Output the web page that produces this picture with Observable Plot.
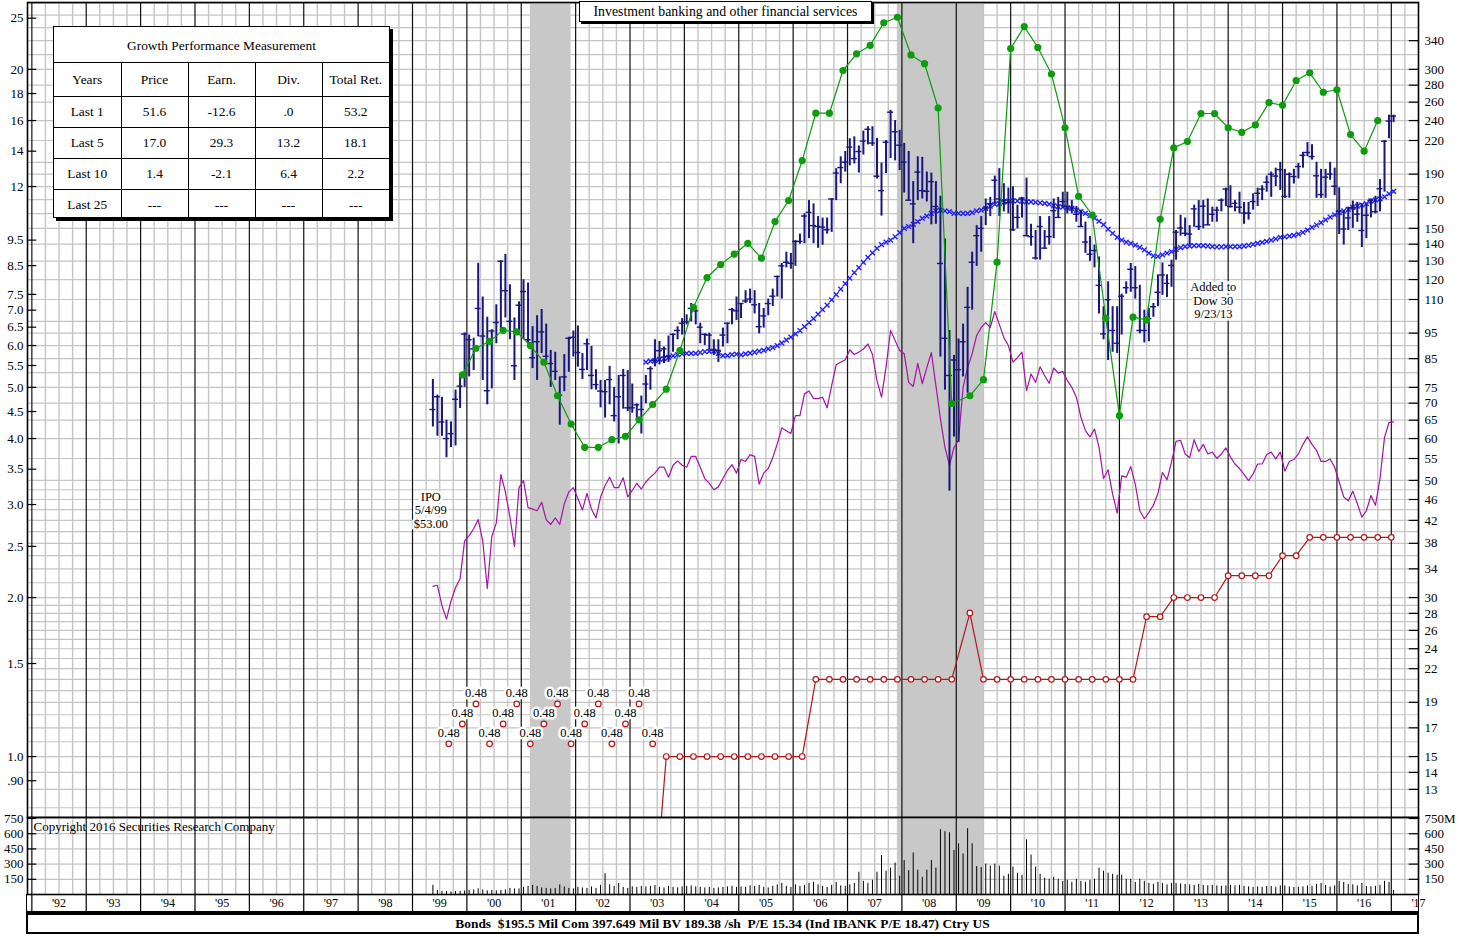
<!DOCTYPE html>
<html><head><meta charset="utf-8">
<script src="https://cdn.jsdelivr.net/npm/d3@7"></script>
<script src="https://cdn.jsdelivr.net/npm/@observablehq/plot@0.6"></script>
<style>
body{margin:0;background:#fff;font-family:"Liberation Serif","Times New Roman",serif;}
#wrap{position:relative;width:1470px;height:937px;overflow:hidden;background:#fff;}
#wrap svg{position:absolute;left:0;}
#gpm{position:absolute;left:53px;top:26px;width:335px;height:190px;border:1.5px solid #000;box-shadow:3px 3px 0 #000;background:#fff;font-size:13.4px;}
#gpm .hdr{height:35px;line-height:37px;text-align:center;border-bottom:1px solid #000;}
#gpm table{width:100%;border-collapse:collapse;border-style:hidden;table-layout:fixed;}
#gpm td{border:1px solid #000;text-align:center;height:30px;padding:0;}
#gpm tr:first-child td{height:33px;}
#title{position:absolute;left:579px;top:1px;width:291px;height:19px;border:1px solid #000;box-shadow:2px 2px 0 #000;background:#fff;font-size:13.8px;text-align:center;line-height:20px;}
#xrow{position:absolute;left:26px;top:894px;width:1391px;height:17px;border-left:1.5px solid #000;border-right:1.5px solid #000;border-bottom:2px solid #000;}
#bottom{position:absolute;left:26px;top:913px;width:1389px;height:17px;border:2px solid #000;font-weight:bold;font-size:13.4px;text-align:center;line-height:18px;}
</style></head>
<body><div id="wrap"></div>
<script>
// ---------------- DATA ----------------
const PRICE_START = [1999, 5]; // first monthly bar: May 1999
const priceHigh = [
77.6,72.5,71.8,65,64.5,74.1,78.7,95.1,
94.2,92.9,128.8,111.2,101.8,96.4,107.5,130.1,133.9,117.3,101.5,108.9,
119.9,118.2,97.7,102.5,105.3,98.8,88.1,87.4,78.5,86.5,93.3,95.9,
98,86.9,92.6,89.6,81,77.3,77.3,82.2,75,79,81.1,80.7,
76.1,69.8,72.2,79,82,92.3,91.6,89.4,93.8,94.7,97.7,101.2,
102.9,108.1,105.3,99.2,94.7,95,92.3,92.3,97.1,99.2,105.8,111.2,
108.1,114.3,115.1,114.3,108.1,105.8,110.2,115.1,121.8,128.7,135.2,134.5,
142.2,146.3,159.8,169.3,166.9,157.9,156.9,156.9,170.5,194.6,204.9,209.7,
221.7,223.5,214.8,229.2,233.6,233.6,222,199.4,220,250.9,240,230,
217.2,209.7,183.9,204.9,204.4,191.7,190.9,183.9,172.5,143.3,96.1,86.2,
92.6,98.8,116,135.2,151.8,157.9,170.5,171.7,188.4,194.6,182.2,178.7,
179.8,165.9,171.7,186.7,152.7,148.6,157.9,148.6,157.9,170.5,171.7,175.6,
175.6,169.3,165,162.4,154.1,144.7,139.4,132.4,106.6,118.8,106.6,106.6,
112.6,118.8,128.7,127,117,105,105.8,108.1,122.5,129,122.5,130.6,
148.6,158.8,156.9,151.8,165.9,169.3,169.3,170.5,164.5,164.5,170.5,178.7,
180.6,169.3,175.6,167.9,167.9,174.3,178.7,180.6,188.4,191.7,195,200,
194,191,194,199,209,218,216,200,194,194,200,195,
179,162,164.5,169,168,167,167,170.5,172.5,185.5,220,245.7,
245.7];
const priceLow = [
63.1,60.6,60.6,55.2,57.7,58.1,68.4,75,
78.5,80.7,93.5,77.3,69.5,74.5,90.7,95.9,101.5,92.3,77.3,94.7,
92.3,89.4,81.4,77.3,86.9,84.3,75,77.3,63.6,73.6,80.1,85.6,
81.9,77.6,80.7,74.2,74.1,68.6,65.6,69.5,64.5,58.6,68.2,67.5,
67,65.4,61.2,69.8,74.1,82,82.7,83.2,83.6,87.4,92.3,94.2,
98.5,99.8,98.5,90.7,90,88.1,86.2,83.6,89.4,90.7,98.5,100.4,
101.2,108.1,108.1,103.3,94.7,97.1,102.5,106.7,111.2,110.2,126.3,125.5,
127.1,140,140.3,143.4,140.3,137.5,139.4,146.3,147.4,169.3,182.2,191.7,
197,198.6,190.9,206.5,215.8,214.5,186,158.2,190.5,203.3,201.3,193,
175,169.3,140.3,169.3,170.5,168.3,152.3,152.7,85.6,74.1,47.7,60.4,
59,78.5,73.1,105,127.1,135.2,151.8,157.9,166.9,157.9,161.2,159.8,
148.2,149.7,156.9,144.7,138.8,130.6,130.6,136.9,139.4,143.4,156.9,164,
159.8,159.8,154.1,150.8,134.5,129.9,126.3,103.3,92.3,84.3,87.4,86.9,
94.2,112.6,113.5,110.2,94.7,91,91.5,101.8,106.6,112,111,116,
130.6,145,144.7,139.4,150.8,148.6,149.7,151.8,154.1,154.1,161.2,165,
163.9,161.2,159.8,152.7,155.5,162.4,165,169.3,175.6,171.7,180,177,
171,171,182,186,195,205,202,171,171,171,185,173,
146,139.5,148.6,150,154,138,143.4,157,159.8,161.2,175.6,221.7,
237.8];
const priceClose = [
68.1,72,64.5,60,61.3,71.2,75.4,94.6,
92.3,88.7,105.8,93.8,73.9,95.9,99.5,130,114.3,100,82.4,107.3,
113.9,92.3,85.3,91.5,95.5,85.9,83.2,80.4,72.5,78.5,92.9,93.3,
87.3,81.1,90.7,79,75.9,73.8,73.6,77.6,66.3,72,79,68.6,
68.6,69.5,68.1,76.1,81.4,84.3,88,88.7,85.8,94.5,96.1,99.2,
99.8,105.8,104.7,97.5,94.5,94.2,88.1,88.1,94.2,99.2,105.3,104.7,
108.1,109.3,110.2,107.5,97.7,102.4,108.1,111.6,121.6,127.4,129.4,128.8,
141.7,141.7,158.3,160.8,151.8,151.2,150.8,149.1,170.5,190.9,195.5,200.2,
213.8,203.3,209.7,219.5,231,217.6,188.3,176.8,218.4,248.9,228.5,215.5,
200.2,169.6,166.9,191.7,176.8,176.3,183.9,165,128.7,92.9,79,84.5,
81,91.5,106.3,129.4,145.3,150,163.9,167,185,170.5,169.6,167.9,
149,157.3,171.2,145.3,144.7,131.8,151.2,137.6,144.7,162,157.3,168.6,
165,163.9,159.5,151.2,141.3,134,136.2,117,94.7,109.9,96.1,90.9,
111.6,115.8,125.5,115.8,96.1,96.1,101.2,106.6,113.5,122.4,118,127.6,
147.5,150.2,146.8,146.3,163.3,151.2,165.2,152.3,159.5,162.4,169.6,178,
165,167.3,164.5,160.3,160.3,168.6,174.8,178,183.4,189.9,188.4,193.8,
172.4,189.9,188,196.4,206.3,208.8,205.1,188.6,173.8,187.5,190,180.2,
161.6,149.6,157,164.1,159.6,148.6,158.8,169.4,161.3,178.3,219.3,239.5,
244.7];
// monthly volume, millions of shares
const volume = [
90,40,30,30,25,30,30,35,
40,45,55,45,35,40,35,40,45,60,55,55,
70,80,90,80,65,60,55,60,95,75,60,55,
70,65,60,75,60,90,205,95,80,110,70,60,
75,70,80,75,80,90,70,65,80,70,65,75,
80,85,75,70,65,70,60,65,70,75,80,70,
75,70,85,80,90,70,65,80,95,110,80,70,
95,80,90,110,120,95,80,70,90,120,85,80,
95,110,220,130,110,140,220,385,230,260,310,180,
335,235,410,240,170,240,335,260,640,620,610,435,
500,400,650,500,275,265,300,280,300,280,180,200,
270,210,190,540,390,270,200,160,150,170,150,130,
140,120,150,130,120,140,150,260,230,210,200,190,
190,150,150,120,150,130,110,100,120,110,95,110,
110,105,100,95,90,100,90,85,90,85,80,85,
90,85,90,80,75,70,75,70,80,80,70,85,
85,75,70,70,75,85,80,100,110,90,75,85,
130,120,100,95,85,110,80,75,80,90,130,120,
40];
// relative strength (left-scale units), monthly from May 1999
const relStrength = [
2.10,2.11,1.93,1.82,1.97,2.09,2.17,2.56,
2.62,2.70,2.81,2.56,2.08,2.61,2.77,3.42,3.17,2.84,2.50,3.23,
3.33,2.96,2.94,2.92,3.03,2.81,2.75,2.83,2.75,3.01,3.17,3.23,
3.08,2.93,3.15,2.94,2.83,3.10,3.26,3.38,3.23,3.23,3.37,3.10,
3.19,3.29,3.21,3.31,3.38,3.44,3.53,3.53,3.38,3.56,3.63,3.56,
3.53,3.70,3.70,3.53,3.36,3.29,3.20,3.24,3.36,3.48,3.57,3.44,
3.65,3.62,3.73,3.70,3.28,3.44,3.51,3.68,3.91,4.19,4.14,4.09,
4.42,4.42,4.86,4.92,4.76,4.76,4.79,4.57,5.04,5.52,5.58,5.64,
5.89,5.77,5.83,5.91,6.04,5.77,5.15,4.79,5.46,6.41,6.13,5.87,
5.79,5.11,5.02,5.55,5.08,5.45,5.82,5.04,4.36,3.85,3.56,3.85,
3.97,5.00,5.45,5.79,6.27,6.49,6.63,6.49,6.96,6.58,6.21,6.00,
5.58,5.69,5.83,4.93,5.30,5.11,5.47,5.26,5.09,5.44,5.32,5.36,
5.15,5.00,4.79,4.39,4.14,4.03,4.17,3.85,3.36,3.49,3.14,2.89,
3.40,3.38,3.54,3.28,2.92,2.82,2.90,2.99,3.15,3.45,3.34,3.61,
3.95,3.97,3.74,3.68,3.98,3.78,3.90,3.74,3.77,3.67,3.74,3.84,
3.69,3.58,3.51,3.42,3.33,3.43,3.58,3.58,3.73,3.77,3.66,3.77,
3.47,3.62,3.65,3.74,3.90,4.03,3.90,3.80,3.62,3.62,3.66,3.53,
3.31,3.10,3.05,3.18,3.01,2.84,2.92,3.12,2.99,3.36,4.02,4.29,
4.30];
// moving average of price, monthly from Apr 2003
const MA_START = [2003, 4];
const movingAvg = [
83.7,84.1,84.3,84.7,85.0,85.5,86.0,86.5,86.8,
87.0,87.0,87.0,87.3,87.6,87.7,87.8,87.0,86.1,86.1,86.5,86.7,
86.4,86.8,87.1,87.4,87.8,88.1,88.7,89.2,90.0,91.0,92.2,93.4,
94.7,96.0,97.7,99.5,101.2,103.2,105.2,107.3,109.8,112.4,115.1,117.9,
120.8,123.7,126.4,129.3,132.2,134.8,137.5,139.7,141.3,142.5,144.6,147.2,
150.0,151.1,152.7,154.4,156.7,158.3,160.1,161.8,162.4,161.8,161.3,160.1,
160.1,160.1,160.1,160.6,161.8,162.4,163.6,165.3,166.5,167.1,168.2,168.9,
169.1,169.1,168.9,168.4,168.4,168.0,167.7,167.2,166.7,165.6,164.9,164.5,
164.0,163.6,162.4,161.3,160.1,158.6,156.9,154.8,152.4,149.5,146.8,144.2,
142.5,141.3,140.5,139.4,138.1,136.5,134.7,133.0,132.7,133.6,134.7,135.5,
136.9,137.9,138.5,138.9,139.1,139.1,139.1,138.9,138.5,138.3,138.3,138.5,
138.5,138.5,138.5,138.9,139.3,139.9,140.5,141.1,141.7,142.5,143.3,144.2,
144.6,145.0,145.5,146.3,147.4,148.9,150.7,152.2,153.8,155.6,157.5,159.1,
160.6,161.8,162.9,164.4,165.2,166.1,167.1,169.0,169.9,170.6,172.1,174.3,
176.3];
// earnings per share (12-month), at quarter ends
const earnPeriods = ["1999-11","2000-02","2000-05","2000-08","2000-11","2001-02","2001-05","2001-08","2001-11",
"2002-02","2002-05","2002-08","2002-11","2003-02","2003-05","2003-08","2003-11","2004-02","2004-05","2004-08","2004-11",
"2005-02","2005-05","2005-08","2005-11","2006-02","2006-05","2006-08","2006-11","2007-02","2007-05","2007-08","2007-11",
"2008-02","2008-05","2008-08","2008-11","2009-03","2009-06","2009-09","2009-12","2010-03","2010-06","2010-09","2010-12",
"2011-03","2011-06","2011-09","2011-12","2012-03","2012-06","2012-09","2012-12","2013-03","2013-06","2013-09","2013-12",
"2014-03","2014-06","2014-09","2014-12","2015-03","2015-06","2015-09","2015-12","2016-03","2016-06","2016-09"];
const earnValues = [5.28,5.93,6.11,6.41,6.37,6.00,5.58,4.82,4.26,
3.85,3.85,3.98,4.04,4.34,4.64,4.96,5.87,7.09,8.07,8.54,8.94,
9.37,8.78,10.3,11.29,13.44,16.52,16.52,19.9,21.4,22.2,24.5,25.1,
21.3,20.5,16.9,4.66,4.82,5.17,8.63,21.9,24.1,22.0,19.6,15.5,
11.5,10.6,6.76,4.42,6.79,6.71,10.4,14.2,14.6,16.5,16.5,15.5,
15.2,15.7,17.3,17.1,19.05,19.7,18.1,18.3,15.05,14.0,16.0];
// dividends (annual rate); early ones below scale are shown as labels
const divLabelPeriods = ["1999-08","1999-11","2000-02","2000-05","2000-08","2000-11","2001-02","2001-05",
"2001-08","2001-11","2002-02","2002-05","2002-08","2002-11","2003-02","2003-05"];
const divLabelValues = [0.48,0.48,0.48,0.48,0.48,0.48,0.48,0.48,0.48,0.48,0.48,0.48,0.48,0.48,0.48,0.48];
const divPeriods = ["2003-05","2003-08","2003-11","2004-02","2004-05","2004-08","2004-11","2005-02","2005-05","2005-08","2005-11","2006-02",
"2006-05","2006-08","2006-11","2007-02","2007-05","2007-08","2007-11","2008-02","2008-05","2008-08","2008-11",
"2009-03","2009-06","2009-09","2009-12","2010-03","2010-06","2010-09","2010-12","2011-03","2011-06","2011-09","2011-12","2012-03",
"2012-06","2012-09","2012-12","2013-03","2013-06","2013-09","2013-12","2014-03","2014-06","2014-09",
"2014-12","2015-03","2015-06","2015-09","2015-12","2016-03","2016-06","2016-09","2016-12"];
const divValues = [0.48,1.0,1.0,1.0,1.0,1.0,1.0,1.0,1.0,1.0,1.0,1.0,
1.40,1.40,1.40,1.40,1.40,1.40,1.40,1.40,1.40,1.40,1.40,
1.87,1.40,1.40,1.40,1.40,1.40,1.40,1.40,1.40,1.40,1.40,1.40,1.40,
1.84,1.84,2.00,2.00,2.00,2.00,2.20,2.20,2.20,2.20,
2.40,2.40,2.60,2.60,2.60,2.60,2.60,2.60,2.60];
const recessions = [{from: "2001-03", to: "2001-11"}, {from: "2007-12", to: "2009-06"}];
// axis tick labels
const leftTicks = [25,20,18,16,14,12,9.5,8.5,7.5,7.0,6.5,6.0,5.5,5.0,4.5,4.0,3.5,3.0,2.5,2.0,1.5,1.0,0.9];
const leftLabels = ["25","20","18","16","14","12","9.5","8.5","7.5","7.0","6.5","6.0","5.5","5.0","4.5","4.0","3.5","3.0","2.5","2.0","1.5","1.0",".90"];
const rightTicks = [340,300,280,260,240,220,190,170,150,140,130,120,110,95,85,75,70,65,60,55,50,46,42,38,34,30,28,26,24,22,19,17,15,14,13];
const gridPrices = [12,13,14,15,16,17,18,19,20,21,22,23,24,25,26,27,28,29,30,32,34,36,38,40,42,44,46,48,50,55,60,65,70,75,80,85,90,95,100,110,120,130,140,150,160,170,180,190,200,220,240,260,280,300,320,340,360,380,400];
const volTicks = [750,600,450,300,150];
const volLeftLabels = ["750","600","450","300","150"];
const volRightLabels = ["750M","600","450","300","150"];
const notes = [
  {date: "1999-05-04", price: 44, text: "IPO\n5/4/99\n$53.00"},
  {date: "2013-09-23", price: 109.5, text: "Added to\nDow 30\n9/23/13"}
];
const tableHead = ["Years","Price","Earn.","Div.","Total Ret."];
const tableRows = [
  ["Last 1","51.6","-12.6",".0","53.2"],
  ["Last 5","17.0","29.3","13.2","18.1"],
  ["Last 10","1.4","-2.1","6.4","2.2"],
  ["Last 25","---","---","---","---"]
];
const titleText = "Investment banking and other financial services";
const footerText = "Bonds\u00a0 $195.5 Mil Com 397.649 Mil BV 189.38 /sh\u00a0 P/E 15.34 (Ind IBANK P/E 18.47) Ctry US";
const copyright = "Copyright 2016 Securities Research Company";

// ---------------- HELPERS ----------------
const RATIO = 15; // right (price) scale = 15 x left (earnings) scale
const X0 = 1991.92, X1 = 2017.5;
const monthT = (start, i) => start[0] + (start[1] - 1 + i + 0.5) / 12;
const endT = s => +s.slice(0, 4) + (+s.slice(5, 7)) / 12;
const startT = s => +s.slice(0, 4) + (+s.slice(5, 7) - 1) / 12;
const dateT = s => { const d = new Date(s + "T00:00:00Z"); const y = d.getUTCFullYear(); return y + (d - Date.UTC(y,0,1)) / (Date.UTC(y+1,0,1) - Date.UTC(y,0,1)); };

const bars = priceHigh.map((h, i) => ({t: monthT(PRICE_START, i), high: h, low: priceLow[i], close: priceClose[i]}));
const vols = volume.map((v, i) => ({t: monthT(PRICE_START, i), v}));
const rs = relStrength.map((v, i) => ({t: monthT(PRICE_START, i), v: v * RATIO}));
const ma = movingAvg.map((v, i) => ({t: monthT(MA_START, i), v}));
const earn = earnPeriods.map((p, i) => ({t: endT(p), v: earnValues[i] * RATIO}));
const tierLevels = [1.057, 1.153, 1.258];
const divLab = divLabelPeriods.map((p, i) => ({t: endT(p), v: divLabelValues[i], y: tierLevels[i % 3] * RATIO}));
const divs = divPeriods.map((p, i) => ({t: endT(p), v: divValues[i] * RATIO}));
const rec = recessions.map(r => ({a: startT(r.from), b: endT(r.to)}));
const noteData = notes.map(n => ({t: dateT(n.date), y: n.price, text: n.text}));
const years = d3.range(1992, 2018);
const quarters = d3.range(1992, 2017.5, 0.25).filter(q => q % 1 !== 0);
const yearMids = years.map(y => y + 0.5);
const leftObjs = leftTicks.map((v, i) => ({y: v * RATIO, label: leftLabels[i]}));
const rightObjs = rightTicks.map(v => ({y: v, label: String(v)}));
const volObjs = volTicks.map((v, i) => ({v, l: volLeftLabels[i], r: volRightLabels[i]}));

const NAVY = "#16167e", GREEN = "#0c9c0c", RED = "#b51616", PURPLE = "#a414a4", BLUE = "#2020ff",
      GRID = "#c4c4c4", SHADE = "#c8c8c8", FONT = "Liberation Serif, Times New Roman, serif";
const style = {background: "transparent", fontFamily: FONT, fontSize: "13px", color: "#000", overflow: "visible"};
const TL = 0.17; // inward tick length in years

const main = Plot.plot({
  width: 1470, height: 820, marginTop: 2, marginBottom: 3, marginLeft: 27, marginRight: 52,
  x: {domain: [X0, X1], axis: null},
  y: {type: "log", domain: [11.5, 401.5], axis: null},
  style,
  marks: [
    Plot.ruleY(gridPrices, {stroke: GRID, strokeWidth: 1.2}),
    Plot.ruleX(quarters, {stroke: GRID, strokeWidth: 1.4}),
    Plot.rect(rec, {x1: "a", x2: "b", fill: SHADE}),
    Plot.ruleX(years, {stroke: "#111", strokeWidth: 1.2}),
    Plot.line(rs, {x: "t", y: "v", stroke: PURPLE, strokeWidth: 1.2}),
    Plot.line(divs, {x: "t", y: "v", stroke: RED, strokeWidth: 1.2, clip: true}),
    Plot.dot(divs, {x: "t", y: "v", r: 2.8, fill: "white", stroke: RED, strokeWidth: 1.2, clip: true}),
    Plot.text(divLab, {x: "t", y: "y", dy: -11, text: d => d.v.toFixed(2), fill: "#000", stroke: "white", strokeWidth: 5, fontSize: 12.5}),
    Plot.dot(divLab, {x: "t", y: "y", r: 2.8, fill: "white", stroke: RED, strokeWidth: 1.2}),
    Plot.dot(ma, {x: "t", y: "v", symbol: "times", r: 2.3, stroke: BLUE, strokeWidth: 1.4}),
    Plot.ruleX(bars, {x: "t", y1: "low", y2: "high", stroke: NAVY, strokeWidth: 2}),
    Plot.ruleY(bars, {x1: d => d.t - 0.055, x2: d => d.t + 0.055, y: "close", stroke: NAVY, strokeWidth: 1.4}),
    Plot.line(earn, {x: "t", y: "v", stroke: GREEN, strokeWidth: 1.2}),
    Plot.dot(earn, {x: "t", y: "v", r: 3.6, fill: GREEN}),
    Plot.text(noteData, {x: "t", y: "y", text: "text", fontSize: 12.5, lineHeight: 1.08, fill: "#000", stroke: "white", strokeWidth: 5}),
    Plot.frame({stroke: "#000", strokeWidth: 1.6}),
    Plot.ruleY(leftObjs, {y: "y", x1: X0, x2: X0 + TL, stroke: "#000", strokeWidth: 1.2}),
    Plot.ruleY(rightObjs, {y: "y", x1: X1 - TL, x2: X1, stroke: "#000", strokeWidth: 1.2}),
    Plot.text(leftObjs, {y: "y", text: "label", frameAnchor: "left", textAnchor: "end", dx: -4, fontSize: 13}),
    Plot.text(rightObjs, {y: "y", text: "label", frameAnchor: "right", textAnchor: "start", dx: 6, fontSize: 13})
  ]
});

const vplot = Plot.plot({
  width: 1470, height: 95, marginTop: 0, marginBottom: 18, marginLeft: 27, marginRight: 52,
  x: {domain: [X0, X1], axis: null},
  y: {domain: [0, 760], axis: null},
  style,
  marks: [
    Plot.ruleY(volTicks, {stroke: GRID, strokeWidth: 1.2}),
    Plot.ruleX(quarters, {stroke: GRID, strokeWidth: 1.4}),
    Plot.rect(rec, {x1: "a", x2: "b", fill: SHADE}),
    Plot.ruleX(years, {stroke: "#111", strokeWidth: 1.2}),
    Plot.ruleX(vols, {x: "t", y1: 0, y2: "v", stroke: "#000", strokeWidth: 1}),
    Plot.text([copyright], {text: d => d, frameAnchor: "top-left", textAnchor: "start", dx: 6, dy: 4, fontSize: 13, fill: "#000"}),
    Plot.frame({stroke: "#000", strokeWidth: 1.6}),
    Plot.ruleY(volObjs, {y: "v", x1: X0, x2: X0 + TL, stroke: "#000", strokeWidth: 1.2}),
    Plot.ruleY(volObjs, {y: "v", x1: X1 - TL, x2: X1, stroke: "#000", strokeWidth: 1.2}),
    Plot.text(volObjs, {y: "v", text: "l", frameAnchor: "left", textAnchor: "end", dx: -4, fontSize: 13}),
    Plot.text(volObjs, {y: "v", text: "r", frameAnchor: "right", textAnchor: "start", dx: 6, fontSize: 13}),
    Plot.axisX(years, {tickSize: 18, tickFormat: () => "", stroke: "#000", strokeWidth: 1.2}),
    Plot.axisX(yearMids, {tickSize: 0, tickPadding: 4, tickFormat: d => "'" + String(Math.floor(d)).slice(2), fontSize: 12})
  ]
});

const wrap = document.getElementById("wrap");
main.style.top = "0px";
vplot.style.top = "817px";
wrap.appendChild(main);
wrap.appendChild(vplot);

const xrow = document.createElement("div"); xrow.id = "xrow"; wrap.appendChild(xrow);
const foot = document.createElement("div"); foot.id = "bottom"; foot.textContent = footerText; wrap.appendChild(foot);
const title = document.createElement("div"); title.id = "title"; title.textContent = titleText; wrap.appendChild(title);

const gpm = document.createElement("div"); gpm.id = "gpm";
const hdr = document.createElement("div"); hdr.className = "hdr"; hdr.textContent = "Growth Performance Measurement"; gpm.appendChild(hdr);
const tbl = document.createElement("table");
[tableHead, ...tableRows].forEach(r => { const tr = document.createElement("tr"); r.forEach(c => { const td = document.createElement("td"); td.textContent = c; tr.appendChild(td); }); tbl.appendChild(tr); });
gpm.appendChild(tbl);
wrap.appendChild(gpm);
</script></body></html>
